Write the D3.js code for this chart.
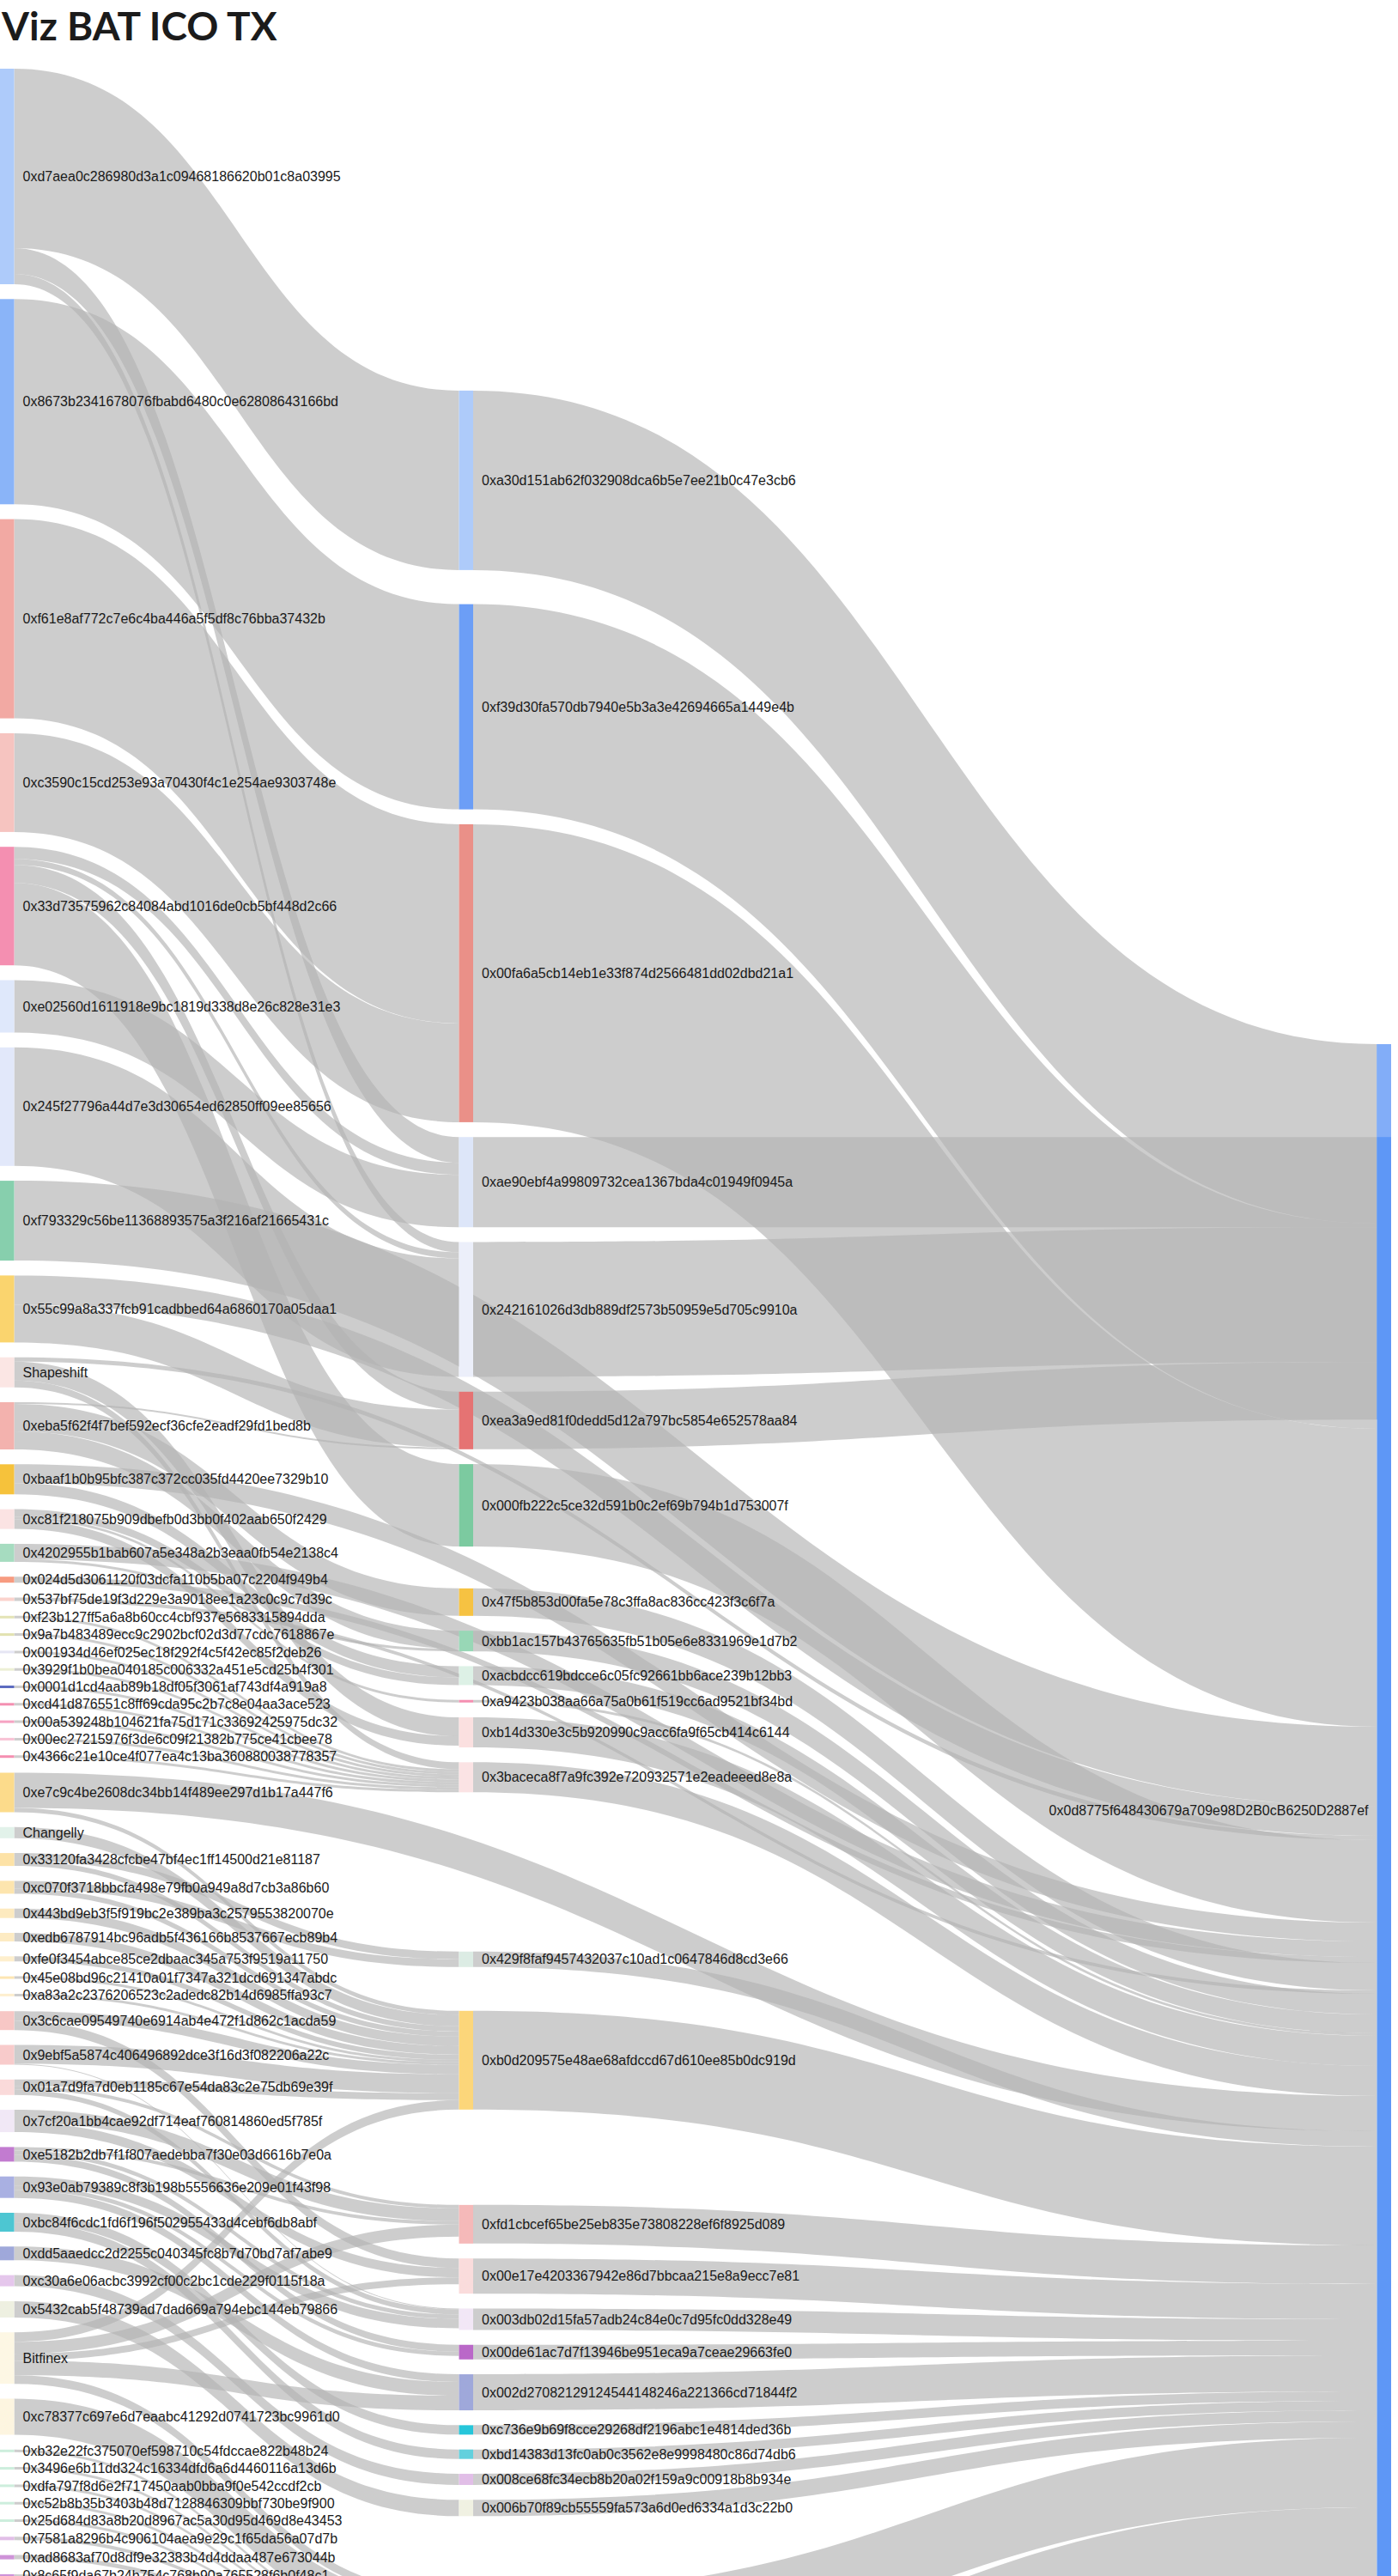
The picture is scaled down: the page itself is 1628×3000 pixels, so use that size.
<!DOCTYPE html>
<html>
<head>
<meta charset="utf-8">
<title>Viz BAT ICO TX</title>
<script src="https://cdn.jsdelivr.net/npm/d3@7"></script>
<style>
html,body{margin:0;padding:0;background:#fff;overflow:hidden}
svg{display:block}
</style>
</head>
<body>
<svg id="chart" width="1628" height="3000"></svg>
<script>
// ---------------- DATA ----------------
const chartTitle = "Viz BAT ICO TX";

const leftNames = [
 "0xd7aea0c286980d3a1c09468186620b01c8a03995", //0
 "0x8673b2341678076fbabd6480c0e62808643166bd", //1
 "0xf61e8af772c7e6c4ba446a5f5df8c76bba37432b", //2
 "0xc3590c15cd253e93a70430f4c1e254ae9303748e", //3
 "0x33d73575962c84084abd1016de0cb5bf448d2c66", //4
 "0xe02560d1611918e9bc1819d338d8e26c828e31e3", //5
 "0x245f27796a44d7e3d30654ed62850ff09ee85656", //6
 "0xf793329c56be11368893575a3f216af21665431c", //7
 "0x55c99a8a337fcb91cadbbed64a6860170a05daa1", //8
 "Shapeshift",                                 //9
 "0xeba5f62f4f7bef592ecf36cfe2eadf29fd1bed8b", //10
 "0xbaaf1b0b95bfc387c372cc035fd4420ee7329b10", //11
 "0xc81f218075b909dbefb0d3bb0f402aab650f2429", //12
 "0x4202955b1bab607a5e348a2b3eaa0fb54e2138c4", //13
 "0x024d5d3061120f03dcfa110b5ba07c2204f949b4", //14
 "0x537bf75de19f3d229e3a9018ee1a23c0c9c7d39c", //15
 "0xf23b127ff5a6a8b60cc4cbf937e5683315894dda", //16
 "0x9a7b483489ecc9c2902bcf02d3d77cdc7618867e", //17
 "0x001934d46ef025ec18f292f4c5f42ec85f2deb26", //18
 "0x3929f1b0bea040185c006332a451e5cd25b4f301", //19
 "0x0001d1cd4aab89b18df05f3061af743df4a919a8", //20
 "0xcd41d876551c8ff69cda95c2b7c8e04aa3ace523", //21
 "0x00a539248b104621fa75d171c33692425975dc32", //22
 "0x00ec27215976f3de6c09f21382b775ce41cbee78", //23
 "0x4366c21e10ce4f077ea4c13ba360880038778357", //24
 "0xe7c9c4be2608dc34bb14f489ee297d1b17a447f6", //25
 "Changelly",                                  //26
 "0x33120fa3428cfcbe47bf4ec1ff14500d21e81187", //27
 "0xc070f3718bbcfa498e79fb0a949a8d7cb3a86b60", //28
 "0x443bd9eb3f5f919bc2e389ba3c2579553820070e", //29
 "0xedb6787914bc96adb5f436166b8537667ecb89b4", //30
 "0xfe0f3454abce85ce2dbaac345a753f9519a11750", //31
 "0x45e08bd96c21410a01f7347a321dcd691347abdc", //32
 "0xa83a2c2376206523c2adedc82b14d6985ffa93c7", //33
 "0x3c6cae09549740e6914ab4e472f1d862c1acda59", //34
 "0x9ebf5a5874c406496892dce3f16d3f082206a22c", //35
 "0x01a7d9fa7d0eb1185c67e54da83c2e75db69e39f", //36
 "0x7cf20a1bb4cae92df714eaf760814860ed5f785f", //37
 "0xe5182b2db7f1f807aedebba7f30e03d6616b7e0a", //38
 "0x93e0ab79389c8f3b198b5556636e209e01f43f98", //39
 "0xbc84f6cdc1fd6f196f502955433d4cebf6db8abf", //40
 "0xdd5aaedcc2d2255c040345fc8b7d70bd7af7abe9", //41
 "0xc30a6e06acbc3992cf00c2bc1cde229f0115f18a", //42
 "0x5432cab5f48739ad7dad669a794ebc144eb79866", //43
 "Bitfinex",                                   //44
 "0xc78377c697e6d7eaabc41292d0741723bc9961d0", //45
 "0xb32e22fc375070ef598710c54fdccae822b48b24", //46
 "0x3496e6b11dd324c16334dfd6a6d4460116a13d6b", //47
 "0xdfa797f8d6e2f717450aab0bba9f0e542ccdf2cb", //48
 "0xc52b8b35b3403b48d7128846309bbf730be9f900", //49
 "0x25d684d83a8b20d8967ac5a30d95d469d8e43453", //50
 "0x7581a8296b4c906104aea9e29c1f65da56a07d7b", //51
 "0xad8683af70d8df9e32383b4d4ddaa487e673044b", //52
 "0x8c65f9da67b24b754c768b90a765528f6b0f48c1"  //53
];

const midNames = [
 "0xa30d151ab62f032908dca6b5e7ee21b0c47e3cb6", //0
 "0xf39d30fa570db7940e5b3a3e42694665a1449e4b", //1
 "0x00fa6a5cb14eb1e33f874d2566481dd02dbd21a1", //2
 "0xae90ebf4a99809732cea1367bda4c01949f0945a", //3
 "0x242161026d3db889df2573b50959e5d705c9910a", //4
 "0xea3a9ed81f0dedd5d12a797bc5854e652578aa84", //5
 "0x000fb222c5ce32d591b0c2ef69b794b1d753007f", //6
 "0x47f5b853d00fa5e78c3ffa8ac836cc423f3c6f7a", //7
 "0xbb1ac157b43765635fb51b05e6e8331969e1d7b2", //8
 "0xacbdcc619bdcce6c05fc92661bb6ace239b12bb3", //9
 "0xa9423b038aa66a75a0b61f519cc6ad9521bf34bd", //10
 "0xb14d330e3c5b920990c9acc6fa9f65cb414c6144", //11
 "0x3baceca8f7a9fc392e720932571e2eadeeed8e8a", //12
 "0x429f8faf9457432037c10ad1c0647846d8cd3e66", //13
 "0xb0d209575e48ae68afdccd67d610ee85b0dc919d", //14
 "0xfd1cbcef65be25eb835e73808228ef6f8925d089", //15
 "0x00e17e4203367942e86d7bbcaa215e8a9ecc7e81", //16
 "0x003db02d15fa57adb24c84e0c7d95fc0dd328e49", //17
 "0x00de61ac7d7f13946be951eca9a7ceae29663fe0", //18
 "0x002d27082129124544148246a221366cd71844f2", //19
 "0xc736e9b69f8cce29268df2196abc1e4814ded36b", //20
 "0xbd14383d13fc0ab0c3562e8e9998480c86d74db6", //21
 "0x008ce68fc34ecb8b20a02f159a9c00918b8b934e", //22
 "0x006b70f89cb55559fa573a6d0ed6334a1d3c22b0", //23
 "", ""  // 24, 25: continuation nodes below the visible area
];

// the BAT token contract appears under two spellings (checksum / lower case)
const sinkNames = [
 "0x0d8775f648430679a709e98D2B0cB6250D2887ef",
 "0x0d8775f648430679a709e98d2b0cb6250d2887ef"
];

// flows from the left column: source index, target ("M<i>" middle node, "S<i>" contract), value
const flowFrom = [0,0,0, 1, 2, 3, 4,4,4,4, 5, 6, 7, 8,8, 9,9,9, 10,10,10, 11,11, 12,12,12, 13,13, 14, 15,
  16,17,18,19,20,21,22,23,24, 25,25, 26, 27,27, 28,28, 29, 30, 31, 32, 33, 34,34, 35,35, 36,36,36, 37,37, 38,38,38, 39,39,39,
  40,40, 41, 42, 43, 44,44,44,44,44, 45, 46,47,48,49,50,51,52,53];
const flowTo = ["M0","M3","M4", "M1", "M2", "M2", "M3","M4","M5","M6", "M3", "M4", "S0", "M5","S0", "M11","M12","S0",
  "M5","M7","M8", "M9","S0", "M9","M10","M11", "M8","S0", "S0", "S0",
  "M12","M12","M12","M12","M12","M12","M12","M12","M12",
  "M14","S0", "M14", "M13","M14", "M13","M14", "M14", "M14", "M14", "M14", "M14",
  "M14","M16", "M14","M17", "M14","M15","M17", "M15","M16", "M15","M17","M18", "M17","M18","M19",
  "M20","M21", "M19", "M22", "M23", "M14","M15","M16","M19","M24", "M24", "M24","M24","M24","M24","M24","M24","M24","M24"];
const flowValue = [209,30,12, 239, 232, 115, 14,7,21,96, 61, 138, 93, 44,34, 22,8,5,
  2,32,21, 13,22, 9,3,11, 3,18, 7, 4,
  3,3,3,3,3,3,3,3,3,
  5,41, 13, 9,6, 9,6, 11, 10, 6, 3, 3,
  11,11, 22,1, 8,4,6, 15,11, 4,5,8, 11,5,9,
  11,11, 16, 13, 19, 11,14,8,17,10, 42, 3,3,3,3,3,4,5,5];

// flows from the middle column to the contract: middle index, contract index, value
const payFrom  = [0,1,2,3,4,5,6,7,8,9,10,11,12,13,14,15,16,17,18,19,20,21,22,23,24,25];
const payTo    = [0,0,0,1,1,1,0,0,0,0,0, 0, 0, 0, 0, 0, 0, 0, 0, 0, 0, 0, 0, 0, 0, 0];
const payValue = [209,239,347,105,157,67,96,32,24,22,3,35,35,18,115,45,41,25,17,42,11,11,13,19,81,120];

// ---------------- STYLE ----------------
const leftColors = ["#aecbfa","#8ab4f8","#f2a9a3","#f6c4c0","#f48fb1","#dfe8fb","#e2e8fa","#87cfad","#fad46e","#fbe6e4",
 "#f3b2ae","#f6c23b","#fbe3e3","#a6dcc0","#f79b80","#fbd3cd","#e4e4b6","#e2e2b0","#e6e6f4","#edf0d6",
 "#5c6bc0","#f48fb1","#f6a3c2","#f8c3d5","#f48fb1","#fcdb8b","#e2f2ea","#fde2a6","#fde5ae","#fdeabf",
 "#fdebc3","#feefcd","#fde6b3","#feefcf","#f7c7c5","#f8cbcb","#fadada","#f1e8f6","#c27bd0","#a9b0e2",
 "#4dc6d2","#9fa8da","#e5c7ec","#eef0e1","#fdf7e4","#fdf5e0","#cdeedd","#cdeedd","#cdeedd","#cdeedd",
 "#cdeedd","#e1bee7","#ce93d8","#ce93d8"];
const midColors = ["#aecbfa","#6c9ef6","#ea9088","#dde6f9","#eceffa","#e57373","#7ccaa0","#f6c242","#98d7b6","#ddf1e6",
 "#f48fb1","#fbe0e0","#fbe3e4","#dcece4","#fcd67a","#f5b9b9","#fadcdc","#f2e7f6","#ba68c8","#9fa8da",
 "#26c6da","#62d0dd","#e1bee7","#f0f1e2","#dddddd","#dddddd"];
const sinkColor = "#5e97f6", sinkUncovered = "#82adf8";

const W = 1628, H = 3000;
const cfg = {top: 80, pad: 17.3, nodeW: 16.5, blend: 0.67, sinkTop: 1216, labelGap: 10, passes: 4,
             linkFill: "#b3b3b3", linkOpacity: 0.66};

// ---------------- GRAPH ----------------
const L = leftNames.map((n,i)=>({name:n, col:0, color:leftColors[i], in:[], out:[], key:"L"+i}));
const M = midNames.map((n,i)=>({name:n, col:1, color:midColors[i], in:[], out:[], key:"M"+i}));
const S = sinkNames.map((n,i)=>({name:n, col:3, color:sinkColor, in:[], out:[], key:"S"+i}));
const nodes = [...L, ...M, ...S];
const byKey = new Map(nodes.map(n=>[n.key, n]));

const links = [];
function addLink(s, t, v){ const l = {source:s, target:t, value:v}; links.push(l); s.out.push(l); t.in.push(l); }
flowFrom.forEach((s,i)=> addLink(L[s], byKey.get(flowTo[i]), flowValue[i]));
payFrom.forEach((s,i)=> addLink(M[s], S[payTo[i]], payValue[i]));

const ky = d3.scaleLinear().domain([0, 1]).range([0, 1]);          // value -> px
const xCol = d3.scaleLinear().domain([0, 3]).range([0, W - cfg.nodeW - 8]);
nodes.forEach(n=>{ n.value = Math.max(d3.sum(n.in,l=>l.value), d3.sum(n.out,l=>l.value));
  n.h = ky(n.value); n.x0 = xCol(n.col); n.x1 = n.x0 + cfg.nodeW; });
links.forEach(l=> l.w = ky(l.value));

// ---------------- LAYOUT ----------------
let y = cfg.top;
L.forEach(n=>{ n.y0 = y; n.y1 = y + n.h; y = n.y1 + cfg.pad; });
const mid = n => (n.y0 + n.y1)/2;
M.forEach(n=>{ n.y0 = d3.sum(n.in,l=>l.w*mid(l.source))/Math.max(1,d3.sum(n.in,l=>l.w)); n.y1 = n.y0 + n.h; });
S[0].y0 = cfg.sinkTop;

function stackOut(n){ let c = n.y0; n.out.slice().sort((a,b)=>a.target.y0-b.target.y0 || a.target.x0-b.target.x0)
  .forEach(l=>{ l.sy0 = c; c += l.w; l.sy1 = c; }); }
function stackIn(n){ let c = n.y0; n.in.slice().sort((a,b)=>a.source.y0-b.source.y0)
  .forEach(l=>{ l.ty0 = c; c += l.w; l.ty1 = c; }); }

for (let pass = 0; pass < cfg.passes; pass++) {
  L.forEach(stackOut);
  S.forEach(sk=>{ let c = 0; sk.in.slice().sort((a,b)=>a.source.y0-b.source.y0).forEach(l=>{ l.off = c; c += l.w; }); });
  S[1].y0 = undefined;
  let prev = -Infinity;
  M.forEach(n=>{
    const inW = d3.sum(n.in, l=>l.w);
    const sc = inW ? d3.sum(n.in, l=>l.w*(l.sy0+l.sy1)/2)/inW : null;
    let tw = 0, tc = 0;
    n.out.forEach(l=>{ if (l.target.y0 === undefined) return; tc += (l.target.y0 + l.off + l.w/2)*l.w; tw += l.w; });
    let c;
    if (sc === null) c = tw ? tc/tw : prev + cfg.pad + n.h/2;
    else if (!tw) c = sc;
    else c = cfg.blend*sc + (1-cfg.blend)*(tc/tw);
    n.y0 = Math.max(c - n.h/2, prev + cfg.pad);
    if (!n.name) n.y0 = Math.max(n.y0, H + 20);
    n.y1 = n.y0 + n.h; prev = n.y1;
    n.out.forEach(l=>{ if (l.target.y0 === undefined) l.target.y0 = n.y0 - l.off; });
  });
  S.forEach(sk=>{ sk.y1 = sk.y0 + sk.h; });
}
L.forEach(stackOut); M.forEach(n=>{ stackIn(n); stackOut(n); }); S.forEach(stackIn);

// ---------------- RENDER ----------------
const svg = d3.select("#chart");

svg.append("text").attr("x", 2).attr("y", 47)
  .attr("font-family", "Lato, 'Open Sans', sans-serif").attr("font-weight", 700)
  .attr("font-size", 46).attr("fill", "#1b1b1b").text(chartTitle);

function ribbon(l){
  const xs = l.source.x1, xt = l.target.x0, xm = (xs+xt)/2;
  return `M${xs},${l.sy0}C${xm},${l.sy0} ${xm},${l.ty0} ${xt},${l.ty0}`+
         `L${xt},${l.ty1}C${xm},${l.ty1} ${xm},${l.sy1} ${xs},${l.sy1}Z`;
}
svg.append("g").selectAll("path").data(links).join("path")
  .attr("d", ribbon).attr("fill", cfg.linkFill).attr("fill-opacity", cfg.linkOpacity);

svg.append("g").selectAll("rect").data([...L, ...M]).join("rect")
  .attr("x", d=>d.x0).attr("y", d=>d.y0).attr("width", d=>d.x1-d.x0).attr("height", d=>Math.max(1.5, d.y1-d.y0))
  .attr("fill", d=>d.color);

const gS = svg.append("g");
gS.selectAll("rect.sink").data(S).join("rect").attr("class","sink")
  .attr("x", d=>d.x0).attr("y", d=>d.y0).attr("width", d=>d.x1-d.x0).attr("height", d=>d.y1-d.y0)
  .attr("fill", d=>d.color);
gS.append("rect").attr("x", S[0].x0).attr("y", S[0].y0).attr("width", S[0].x1-S[0].x0)
  .attr("height", Math.max(0, S[1].y0 - S[0].y0)).attr("fill", sinkUncovered);

const labelled = [...L, ...M.filter(d=>d.name), S[0]];
svg.append("g").attr("font-family", "'Liberation Sans', Arial, Helvetica, sans-serif").attr("font-size", 16).attr("fill", "#1a1a1a")
  .selectAll("text").data(labelled).join("text")
  .attr("x", d=> d.col===3 ? d.x0 - cfg.labelGap : d.x1 + cfg.labelGap)
  .attr("y", d=> (d.y0 + Math.min(d.y1, H))/2)
  .attr("dy", "0.35em")
  .attr("text-anchor", d=> d.col===3 ? "end" : "start")
  .text(d=>d.name);
</script>
</body>
</html>
